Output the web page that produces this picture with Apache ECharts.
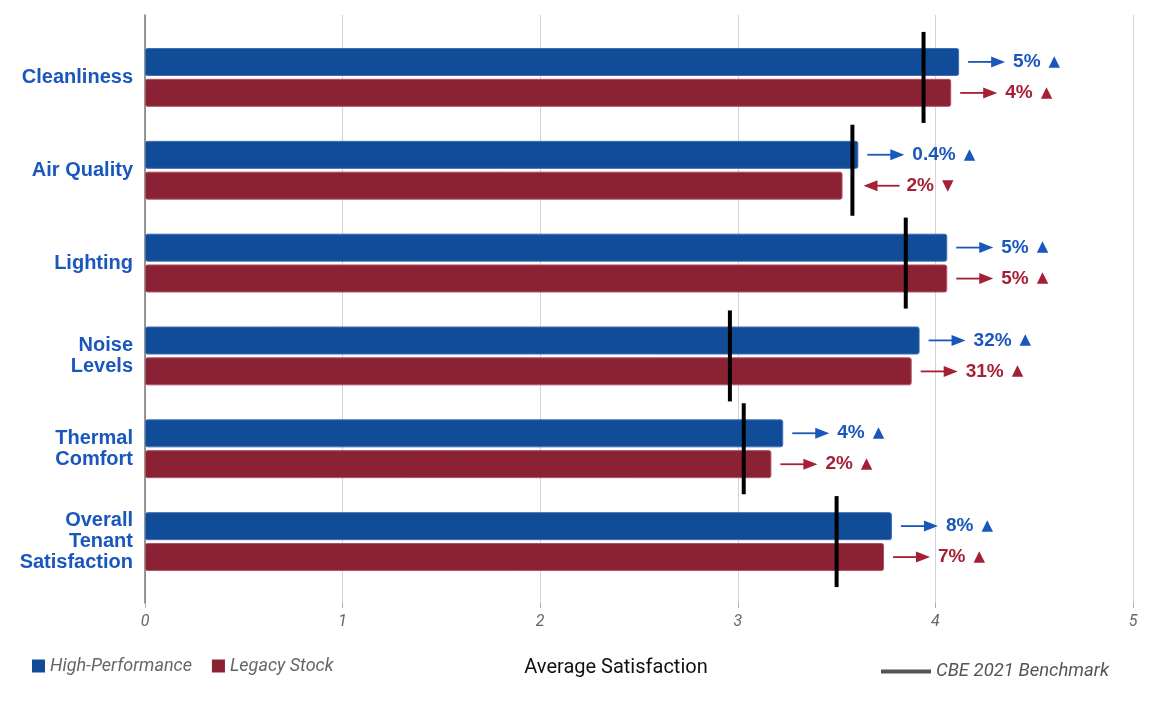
<!DOCTYPE html>
<html>
<head>
<meta charset="utf-8">
<script src="https://cdn.jsdelivr.net/npm/echarts@6/dist/echarts.min.js"></script>
<style>
  html, body { margin: 0; padding: 0; background: #fff; }
  #chart { width: 1170px; height: 708px; }
</style>
</head>
<body>
<div id="chart"></div>
<script>
// values
var categories = ['Cleanliness', 'Air Quality', 'Lighting', 'Noise\nLevels', 'Thermal\nComfort', 'Overall\nTenant\nSatisfaction'];
var highPerf = [4.12, 3.61, 4.06, 3.92, 3.23, 3.78];
var legacy = [4.08, 3.53, 4.06, 3.88, 3.17, 3.74];
var benchmark = [3.94, 3.58, 3.85, 2.96, 3.03, 3.50];
var highPerfChange = ['5%', '0.4%', '5%', '32%', '4%', '8%'];
var highPerfDir = ['up', 'up', 'up', 'up', 'up', 'up'];
var legacyChange = ['4%', '2%', '5%', '31%', '2%', '7%'];
var legacyDir = ['up', 'down', 'up', 'up', 'up', 'up'];
var xTicks = [0, 1, 2, 3, 4, 5];

var BLUE = '#114c98';
var RED = '#8a2234';
var BLUE_TXT = '#1a57bd';
var RED_TXT = '#a51f36';

var chart = echarts.init(document.getElementById('chart'));

// arrow + percent label drawn next to each bar end
function annotRender(offsetSign, color) {
  return function (params, api) {
    var pt = api.coord([api.value(0), api.value(1)]);
    var x0 = pt[0];
    var y = pt[1] + offsetSign * 15.5;
    var dir = api.value(3);
    var label = api.value(2);
    var children = [];
    var tail, tip, txtX;
    if (dir === 'down') {
      tip = x0 + 21; tail = x0 + 57; txtX = x0 + 64;
      children.push({ type: 'line', shape: { x1: tail, y1: y, x2: tip + 10, y2: y }, style: { stroke: color, lineWidth: 1.8 } });
      children.push({ type: 'polygon', shape: { points: [[tip, y], [tip + 14, y - 5.5], [tip + 14, y + 5.5]] }, style: { fill: color } });
    } else {
      tail = x0 + 9; tip = x0 + 46; txtX = x0 + 54;
      children.push({ type: 'line', shape: { x1: tail, y1: y, x2: tip - 10, y2: y }, style: { stroke: color, lineWidth: 1.8 } });
      children.push({ type: 'polygon', shape: { points: [[tip, y], [tip - 14, y - 5.5], [tip - 14, y + 5.5]] }, style: { fill: color } });
    }
    children.push({
      type: 'text',
      x: txtX, y: y,
      style: {
        text: '{p|' + label + '}{t|' + (dir === 'down' ? '▼' : '▲') + '}',
        verticalAlign: 'middle',
        align: 'left',
        rich: {
          p: { fontFamily: 'Liberation Sans, Arial, sans-serif', fontWeight: 'bold', fontSize: 19, fill: color },
          t: { fontFamily: 'DejaVu Sans, sans-serif', fontSize: 15, fill: color, padding: [0, 0, 0, 8] }
        }
      }
    });
    return { type: 'group', children: children };
  };
}

function annotData(vals, labels, dirs) {
  return vals.map(function (v, i) { return [v, i, labels[i], dirs[i]]; });
}

var option = {
  backgroundColor: '#fff',
  animation: false,
  legend: [{
    left: 27, top: 652,
    itemWidth: 13, itemHeight: 13, itemGap: 20,
    icon: 'rect',
    data: [
      { name: 'High-Performance', itemStyle: { color: BLUE, borderWidth: 0 } },
      { name: 'Legacy Stock', itemStyle: { color: RED, borderWidth: 0 } }
    ],
    textStyle: { fontFamily: 'Roboto, sans-serif', fontStyle: 'italic', fontSize: 18, color: '#666' }
  }, {
    left: 876, top: 657,
    itemWidth: 50, itemHeight: 4,
    icon: 'rect',
    data: [{ name: 'CBE 2021 Benchmark', itemStyle: { color: '#555', borderWidth: 0 } }],
    textStyle: { fontFamily: 'Roboto, sans-serif', fontStyle: 'italic', fontSize: 18.5, color: '#555' }
  }],
  grid: [
    { left: 145, right: 37, top: 15, bottom: 105 },
    { left: 145, right: 37, top: 31, bottom: 120 }
  ],
  xAxis: [{
    gridIndex: 0, type: 'value', min: xTicks[0], max: xTicks[xTicks.length - 1], interval: 1,
    axisLine: { show: false },
    axisTick: { show: true, length: 5, lineStyle: { color: '#aaa' } },
    splitLine: { show: true, lineStyle: { color: '#d2d2da', width: 1 } },
    axisLabel: { margin: 11, fontFamily: 'Roboto, sans-serif', fontStyle: 'italic', fontSize: 16, color: '#666' },
    name: 'Average Satisfaction', nameLocation: 'middle', nameGap: 55,
    nameTextStyle: { fontFamily: 'Roboto, sans-serif', fontSize: 20, color: '#111', padding: [0, 46, 0, 0] }
  }, {
    gridIndex: 1, type: 'value', min: 0, max: 5, interval: 1, show: false
  }],
  yAxis: [{
    gridIndex: 0, type: 'value', min: 0, max: 1,
    axisLine: { show: true, lineStyle: { color: '#777', width: 1.5 } },
    axisTick: { show: false }, axisLabel: { show: false }, splitLine: { show: false }
  }, {
    gridIndex: 1, type: 'category', data: categories, inverse: true,
    axisLine: { show: false }, axisTick: { show: false }, splitLine: { show: false },
    axisLabel: {
      margin: 12, align: 'right',
      fontFamily: 'Liberation Sans, Arial, sans-serif', fontWeight: 'bold', fontSize: 20,
      lineHeight: 21, color: BLUE_TXT
    }
  }],
  series: [{
    name: 'High-Performance', type: 'bar', xAxisIndex: 1, yAxisIndex: 1,
    data: highPerf, barWidth: 28, barGap: '10%',
    itemStyle: { color: BLUE, borderColor: '#3f6fb4', borderWidth: 1, borderRadius: 2 }
  }, {
    name: 'Legacy Stock', type: 'bar', xAxisIndex: 1, yAxisIndex: 1,
    data: legacy, barWidth: 28, barGap: '10%',
    itemStyle: { color: RED, borderColor: '#b05063', borderWidth: 1, borderRadius: 2 }
  }, {
    name: 'CBE 2021 Benchmark', type: 'scatter', xAxisIndex: 1, yAxisIndex: 1,
    data: benchmark.map(function (v, i) { return [v, i]; }),
    symbol: 'rect', symbolSize: [4, 91], z: 5,
    itemStyle: { color: '#000', opacity: 1 }
  }, {
    type: 'custom', xAxisIndex: 1, yAxisIndex: 1, z: 6,
    renderItem: annotRender(-1, BLUE_TXT),
    encode: { x: 0, y: 1 },
    data: annotData(highPerf, highPerfChange, highPerfDir)
  }, {
    type: 'custom', xAxisIndex: 1, yAxisIndex: 1, z: 6,
    renderItem: annotRender(1, RED_TXT),
    encode: { x: 0, y: 1 },
    data: annotData(legacy, legacyChange, legacyDir)
  }]
};

chart.setOption(option);
</script>
</body>
</html>
